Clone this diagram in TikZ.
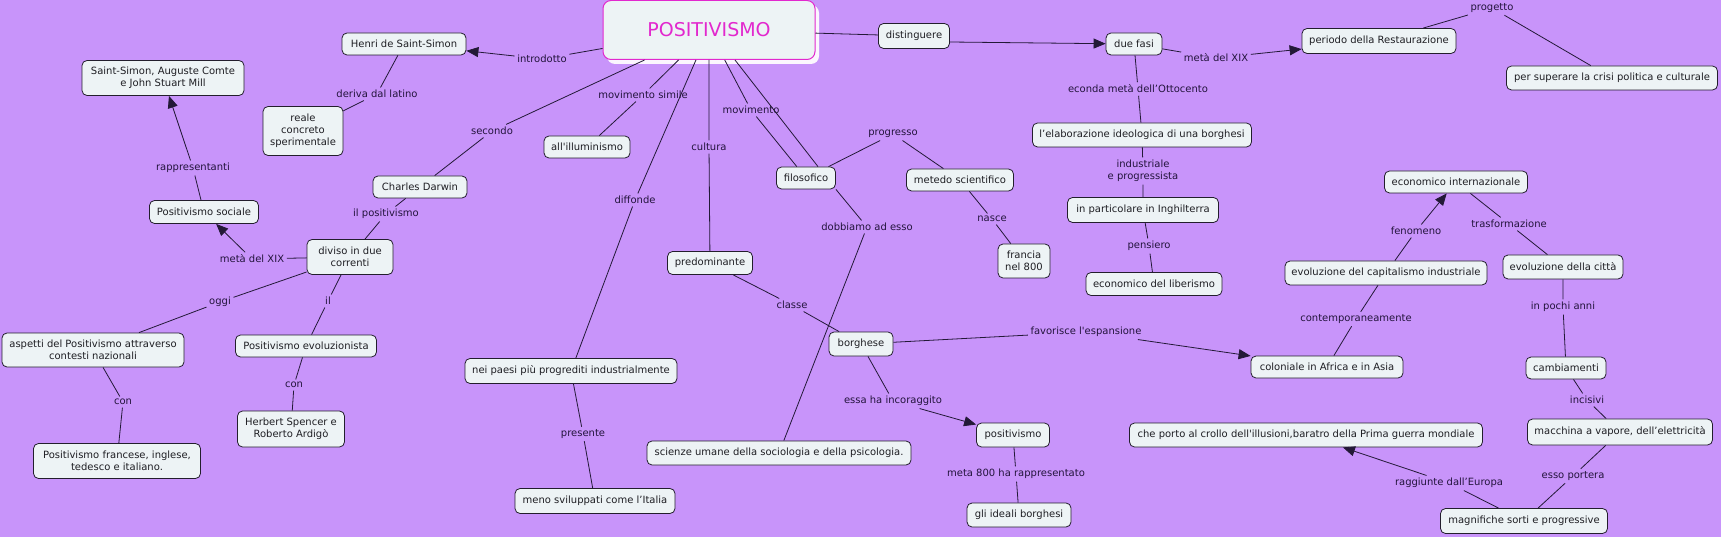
\documentclass[tikz,border=0pt]{standalone}
\usepackage{fontspec}
\setmainfont{DejaVu Sans}
\usetikzlibrary{arrows.meta}
\definecolor{bg}{RGB}{200,148,250}
\definecolor{boxfill}{RGB}{237,243,245}
\definecolor{boxline}{RGB}{35,30,45}
\definecolor{linkc}{RGB}{35,25,55}
\definecolor{txt}{RGB}{30,30,35}
\definecolor{labtxt}{RGB}{35,20,60}
\definecolor{mag}{RGB}{226,40,206}
\tikzset{
  box/.style 2 args={draw=boxline, fill=boxfill, rounded corners=5pt, line width=0.8pt,
    inner sep=0pt, align=center, font=\fontsize{10}{12}\selectfont, text=txt,
    minimum width=#1pt, minimum height=#2pt},
  lab/.style={inner sep=2.5pt, align=center, font=\fontsize{10}{12}\selectfont, text=labtxt},
  link/.style={draw=linkc, line width=0.8pt},
  arr/.style={link, -{Triangle[length=12pt,width=10pt]}},
}
\begin{document}
\begin{tikzpicture}[x=1pt,y=-1pt]
\fill[bg] (0,0) rectangle (1721,537);
\useasboundingbox (0,0) rectangle (1721,537);
% shadow of main node
\fill[white!92!bg, rounded corners=8pt] (607,5) rectangle (819,64);
\node[draw=mag, fill=boxfill, rounded corners=8pt, line width=1pt, minimum width=212pt,
      minimum height=59pt, text=mag, font=\fontsize{19}{22}\selectfont] (pos) at (709,30) {POSITIVISMO};

% concepts
\node[box={124}{22}] (henri) at (404,44) {Henri de Saint-Simon};
\node[box={162}{35}] (ssm) at (163,78) {Saint-Simon, Auguste Comte\\e John Stuart Mill};
\node[box={80}{49}] (reale) at (303,131) {reale\\concreto\\sperimentale};
\node[box={109}{23}] (sociale) at (204,212) {Positivismo sociale};
\node[box={94}{22}] (darwin) at (420,187) {Charles Darwin};
\node[box={86}{35}] (diviso) at (350,257) {diviso in due\\correnti};
\node[box={182}{34}] (aspetti) at (93,350) {aspetti del Positivismo attraverso\\contesti nazionali};
\node[box={141}{22}] (evol) at (306,346) {Positivismo evoluzionista};
\node[box={107}{36}] (herbert) at (291,429) {Herbert Spencer e\\Roberto Ardigò};
\node[box={167}{35}] (franc) at (117,461) {Positivismo francese, inglese,\\tedesco e italiano.};
\node[box={86}{22}] (illum) at (587,147) {all\textquotesingle illuminismo};
\node[box={59}{22}] (filo) at (806,178) {filosofico};
\node[box={85}{23}] (predom) at (710,263) {predominante};
\node[box={64}{24}] (borgh) at (861,344) {borghese};
\node[box={212}{25}] (paesi) at (571,371) {nei paesi più progrediti industrialmente};
\node[box={160}{25}] (meno) at (595,501) {meno sviluppati come l’Italia};
\node[box={264}{24}] (scienze) at (779,453) {scienze umane della sociologia e della psicologia.};
\node[box={107}{22}] (metedo) at (960,180) {metedo scientifico};
\node[box={52}{34}] (francia) at (1024,261) {francia\\nel 800};
\node[box={73}{24}] (posit) at (1013,435) {positivismo};
\node[box={104}{24}] (ideali) at (1019,515) {gli ideali borghesi};
\node[box={71}{25}] (disting) at (914,36) {distinguere};
\node[box={56}{22}] (fasi) at (1134,44) {due fasi};
\node[box={219}{24}] (elab) at (1142,135) {l’elaborazione ideologica di una borghesi};
\node[box={151}{25}] (partic) at (1143,210) {in particolare in Inghilterra};
\node[box={136}{23}] (liber) at (1154,284) {economico del liberismo};
\node[box={154}{25}] (period) at (1379,41) {periodo della Restaurazione};
\node[box={211}{24}] (superare) at (1612,78) {per superare la crisi politica e culturale};
\node[box={143}{22}] (econint) at (1456,182) {economico internazionale};
\node[box={202}{24}] (capit) at (1386,273) {evoluzione del capitalismo industriale};
\node[box={120}{24}] (citta) at (1563,267) {evoluzione della città};
\node[box={152}{22}] (colon) at (1327,367) {coloniale in Africa e in Asia};
\node[box={80}{22}] (cambi) at (1566,368) {cambiamenti};
\node[box={185}{26}] (macch) at (1620,432) {macchina a vapore, dell’elettricità};
\node[box={353}{24}] (crollo) at (1306,435) {che porto al crollo dell\textquotesingle illusioni,baratro della Prima guerra mondiale};
\node[box={167}{25}] (magn) at (1524,521) {magnifiche sorti e progressive};

% linking phrases
\node[lab] (lintro) at (542,59) {introdotto};
\node[lab] (lderiva) at (377,94) {deriva dal latino};
\node[lab] (lsecondo) at (492,131) {secondo};
\node[lab] (lilpos) at (386,214) {il positivismo};
\node[lab] (lmetaA) at (252,259) {metà del XIX};
\node[lab] (lrappr) at (193,168) {rappresentanti};
\node[lab] (loggi) at (220,302) {oggi};
\node[lab] (lil) at (328,301) {il};
\node[lab] (lconA) at (294,385) {con};
\node[lab] (lconB) at (123,402) {con};
\node[lab] (lmovsim) at (643,95) {movimento simile};
\node[lab] (ldiff) at (635,200) {diffonde};
\node[lab] (lpres) at (583,434) {presente};
\node[lab] (lcult) at (709,147) {cultura};
\node[lab] (lclasse) at (792,305) {classe};
\node[lab] (lmov) at (751,110) {movimento};
\node[lab] (lprogr) at (893,134) {progresso};
\node[lab] (lnasce) at (992,219) {nasce};
\node[lab] (ldobb) at (867,227) {dobbiamo ad esso};
\node[lab] (lfav) at (1086,332) {favorisce l\textquotesingle espansione};
\node[lab] (lessa) at (893,401) {essa ha incoraggito};
\node[lab] (lmeta800) at (1016,474) {meta 800 ha rappresentato};
\node[lab] (lmetaB) at (1216,58) {metà del XIX};
\node[lab] (lprogetto) at (1492,8) {progetto};
\node[lab] (lseconda) at (1138,89) {econda metà dell’Ottocento};
\node[lab] (lindus) at (1143,171) {industriale\\e progressista};
\node[lab] (lpens) at (1149,246) {pensiero};
\node[lab] (lfen) at (1416,231) {fenomeno};
\node[lab] (ltrasf) at (1509,224) {trasformazione};
\node[lab] (lcontemp) at (1356,319) {contemporaneamente};
\node[lab] (lpochi) at (1563,307) {in pochi anni};
\node[lab] (lincis) at (1587,400) {incisivi};
\node[lab] (lesso) at (1573,476) {esso portera};
\node[lab] (lragg) at (1449,483) {raggiunte dall’Europa};

% connectors
\draw[link] (pos) -- (lintro); \draw[arr] (lintro) -- (henri);
\draw[link] (henri) -- (lderiva) -- (reale);
\draw[link] (pos) -- (lsecondo) -- (darwin);
\draw[link] (darwin) -- (lilpos) -- (diviso);
\draw[link] (diviso) -- (lmetaA); \draw[arr] (lmetaA) -- (sociale);
\draw[link] (sociale) -- (lrappr); \draw[arr] (lrappr) -- (ssm);
\draw[link] (diviso) -- (loggi) -- (aspetti);
\draw[link] (diviso) -- (lil) -- (evol);
\draw[link] (evol) -- (lconA) -- (herbert);
\draw[link] (aspetti) -- (lconB) -- (franc);
\draw[link] (pos) -- (lmovsim) -- (illum);
\draw[link] (pos) -- (ldiff) -- (paesi);
\draw[link] (paesi) -- (lpres) -- (meno);
\draw[link] (pos) -- (lcult) -- (predom);
\draw[link] (predom) -- (lclasse) -- (borgh);
\draw[link] (pos) -- (lmov) -- (filo);
\draw[link] ([xshift=26pt]pos.south) -- ([xshift=12pt]filo.north);
\draw[link] (filo) -- (lprogr) -- (metedo);
\draw[link] (metedo) -- (lnasce) -- (francia);
\draw[link] (filo.south east) -- (ldobb) -- (scienze);
\draw[link] (borgh) -- (lfav); \draw[arr] (lfav) -- (colon);
\draw[link] (borgh) -- (lessa); \draw[arr] (lessa) -- (posit);
\draw[link] (posit) -- (lmeta800) -- (ideali);
\draw[link] (pos) -- (disting); \draw[arr] ([yshift=-6pt]disting.east) -- (fasi);
\draw[link] (fasi) -- (lmetaB); \draw[arr] (lmetaB) -- (period);
\draw[link] (period) -- (lprogetto) -- (superare);
\draw[link] (fasi) -- (lseconda) -- (elab);
\draw[link] (elab) -- (lindus) -- (partic);
\draw[link] (partic) -- (lpens) -- (liber);
\draw[link] (capit) -- (lfen); \draw[arr] (lfen) -- (econint);
\draw[link] (econint) -- (ltrasf) -- (citta);
\draw[link] (capit) -- (lcontemp) -- (colon);
\draw[link] (citta) -- (lpochi) -- (cambi);
\draw[link] (cambi) -- (lincis) -- (macch);
\draw[link] (macch) -- (lesso) -- (magn);
\draw[link] (magn) -- (lragg); \draw[arr] (lragg) -- (crollo);
\end{tikzpicture}
\end{document}
